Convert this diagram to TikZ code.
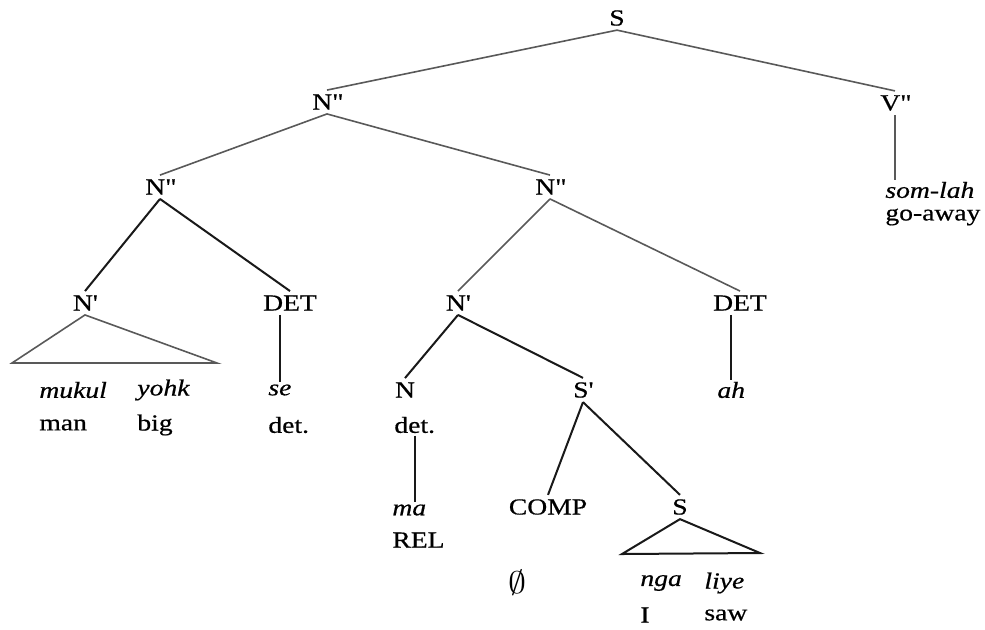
\documentclass[tikz,border=0pt]{standalone}
\usepackage{fontspec}
\setmainfont{Liberation Serif}[FakeStretch=1.2,FakeBold=0.6]
\usepackage{tikz}

\begin{document}
\begin{tikzpicture}[
  x=0.5pt, y=-0.5pt,
  cat/.style={font=\fontsize{11.5}{14}\selectfont, inner sep=2pt},
  wrd/.style={font=\fontsize{11.5}{14}\selectfont\itshape, inner sep=1pt, anchor=west},
  gls/.style={font=\fontsize{11.5}{14}\selectfont, inner sep=1pt, anchor=west},
  branch/.style={line width=1pt, black!90},
  upper/.style={line width=0.8pt, black!65}
]
\useasboundingbox (0,0) rectangle (985,629);

% Categories
\node[cat] (S)      at (617,18)  {S};
\node[cat] (NPtop)  at (327,102) {N\textquotedbl};
\node[cat] (VPP)    at (895,103) {V\textquotedbl};
\node[cat] (NPa)    at (160,187) {N\textquotedbl};
\node[cat] (NPb)    at (550,187) {N\textquotedbl};
\node[cat] (Nbara)  at (85,303)  {N\textquotesingle};
\node[cat] (DETa)   at (290,303) {DET};
\node[cat] (Nbarb)  at (458,303) {N\textquotesingle};
\node[cat] (DETb)   at (740,303) {DET};
\node[cat] (N)      at (405,390) {N};
\node[cat] (Sbar)   at (583,390) {S\textquotesingle};
\node[cat] (COMP)   at (548,507) {COMP};
\node[cat] (Slow)   at (680,507) {S};

% Words and glosses
\node[wrd] (mukul)  at (37,390)  {mukul};
\node[gls] (man)    at (37,425)  {man};
\node[wrd] (yohk)   at (135,390) {yohk};
\node[gls] (big)    at (135,425) {big};
\node[wrd] (se)     at (266,390) {se};
\node[gls] (sedet)  at (266,425) {det.};
\node[gls] (ndet)   at (392,425) {det.};
\node[wrd] (ma)     at (390,510) {ma};
\node[gls] (rel)    at (390,540) {REL};
\node[wrd] (ah)     at (715,390) {ah};
\node[cat] (empty)  at (517,583) {\scalebox{1.5}[1.3]{$\emptyset$}};
\node[wrd] (nga)    at (638,583) {nga};
\node[gls] (pI)     at (638,615) {I};
\node[wrd] (liye)   at (702,583) {liye};
\node[gls] (saw)    at (702,615) {saw};
\node[wrd] (somlah) at (883,190) {som-lah};
\node[gls] (goaway) at (883,217) {go-away};

\coordinate (triaL) at (12,363);
\coordinate (triaR) at (217,363);
\coordinate (tribL) at (622,554);
\coordinate (tribR) at (760,553);

% Branches
\draw[upper]  (S.south) -- (NPtop.north);
\draw[upper]  (S.south) -- (VPP.north);
\draw[upper]  (VPP.south) -- (VPP.south |- somlah.north);
\draw[upper]  (NPtop.south) -- (NPa.north);
\draw[upper]  (NPtop.south) -- (NPb.north);
\draw[branch] (NPa.south) -- (Nbara.north);
\draw[branch] (NPa.south) -- (DETa.north);
\draw[upper]  (Nbara.south) -- (triaL) -- (triaR) -- cycle;
\draw[branch] (DETa.south -| se) -- (se.north);
\draw[upper]  (NPb.south) -- (Nbarb.north);
\draw[upper]  (NPb.south) -- (DETb.north);
\draw[branch] (DETb.south -| ah) -- (ah.north);
\draw[branch] (Nbarb.south) -- (N.north);
\draw[branch] (Nbarb.south) -- (Sbar.north);
\draw[branch] (ndet.south) -- (ndet.south |- ma.north);
\draw[branch] (Sbar.south) -- (COMP.north);
\draw[branch] (Sbar.south) -- (Slow.north);
\draw[branch] (Slow.south) -- (tribL) -- (tribR) -- cycle;
\end{tikzpicture}
\end{document}
